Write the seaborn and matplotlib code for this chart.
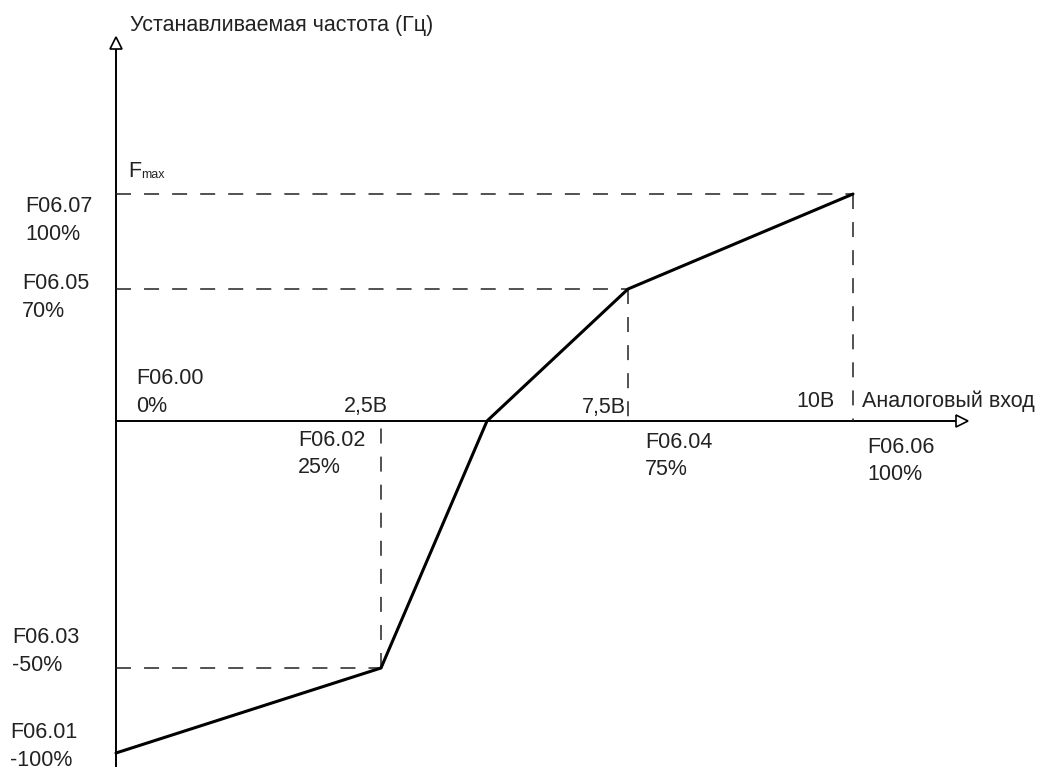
import matplotlib
matplotlib.use("Agg")
import matplotlib.pyplot as plt
import seaborn as sns
import pandas as pd

# Schematic diagram positions (diagram units, origin at axis crossing)
point_x = [0, 265, 371, 512, 737]          # F06.00/01, F06.02/03, zero cross, F06.04/05, F06.06/07
point_y = [-332, -247, 0, 132, 227]
point_names = ["F06.01", "F06.03", "", "F06.05", "F06.07"]

x_labels = ["2,5В", "7,5В", "10В"]
x_param = ["F06.02\n25%", "F06.04\n75%", "F06.06\n100%"]
y_param = ["F06.07\n100%", "F06.05\n70%", "F06.03\n-50%", "F06.01\n-100%"]

title_y = "Устанавливаемая частота (Гц)"
title_x = "Аналоговый вход"

sns.set_theme(style="white")
plt.rcParams["font.family"] = ["Liberation Sans", "DejaVu Sans"]
plt.rcParams["lines.scale_dashes"] = False

W, H = 1048, 769
ox, oy = 116, 421  # pixel position of origin
fig = plt.figure(figsize=(W / 100, H / 100), dpi=100)
ax = fig.add_axes([0, 0, 1, 1])
ax.set_xlim(-ox, W - ox)
ax.set_ylim(oy - H, oy)
ax.axis("off")

def P(px, py):
    return px - ox, oy - py

FS = 15.5
txt = dict(fontsize=FS, color="#222222", va="baseline", ha="left")
txt_r = dict(txt, ha="right")

# axes lines
ax.plot([0, 0], [oy - 767, oy - 46], color="black", lw=1.4, solid_capstyle="butt")
ax.plot([0, 842], [0, 0], color="black", lw=1.4, solid_capstyle="butt")
ax.plot([0], [oy - 43], marker="^", ms=8, mfc="white", mec="black", mew=1.2)
ax.plot([846], [0], marker=">", ms=8, mfc="white", mec="black", mew=1.2)

dash = (0, (10.8, 9.4))
dkw = dict(color="#222222", lw=1.1, linestyle=dash)
# guides
for i in [1, 3, 4]:
    ax.plot([0, point_x[i]], [point_y[i], point_y[i]], **dkw)
    ax.plot([point_x[i], point_x[i]], [point_y[i], 0], **dkw)

# curve
df = pd.DataFrame({"x": point_x, "y": point_y})
sns.lineplot(data=df, x="x", y="y", ax=ax, color="black", lw=2.2, sort=False,
             estimator=None, legend=False)

# titles
ax.text(*P(130, 31), title_y, **txt)
ax.text(*P(862, 407), title_x, **txt)
ax.text(*P(128, 177), "F", **txt)
ax.text(*P(141, 178), "max", fontsize=9, color="#222222", va="baseline", ha="left")

# x labels above axis
ax.text(*P(388, 412), x_labels[0], **txt_r)
ax.text(*P(626, 413), x_labels[1], **txt_r)
ax.text(*P(835, 407), x_labels[2], **txt_r)
ax.text(*P(136, 384), "F06.00", **txt)
ax.text(*P(136, 412), "0%", **txt)

# x param labels below axis
for (px, py), s in zip([(298, 446), (645, 448), (867, 453)], x_param):
    a, b = s.split("\n")
    ax.text(*P(px, py), a, **txt)
    ax.text(*P(px, py + 27), b, **txt)

# y param labels
for (px, py), s in zip([(25, 212), (22, 289), (12, 643), (10, 738)], y_param):
    a, b = s.split("\n")
    ax.text(*P(px, py), a, **txt)
    ax.text(*P(px, py + 28), b, **txt)

fig.savefig("out.png", dpi=100, facecolor="white")
